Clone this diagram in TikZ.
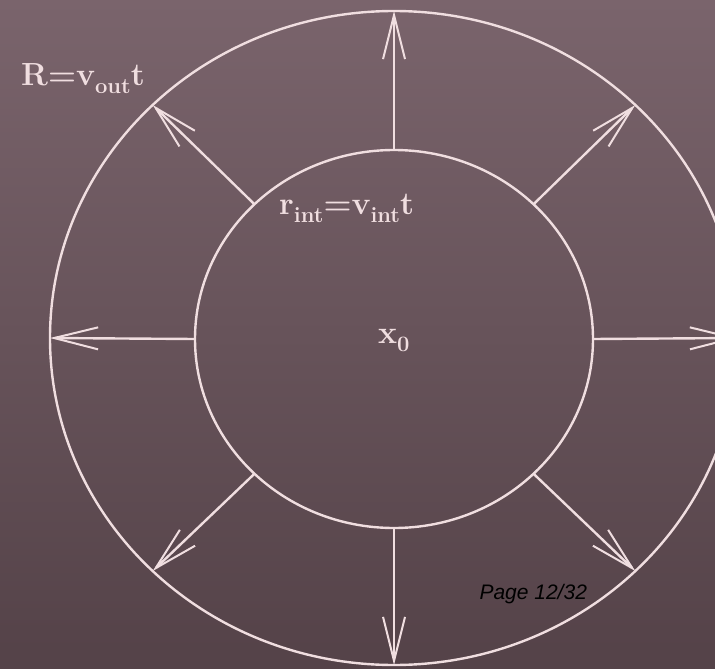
\documentclass[tikz,border=0pt]{standalone}
\usepackage{fontspec}
\usepackage{tikz}
\usetikzlibrary{positioning, arrows.meta, shapes.geometric}
\newfontfamily\pagefont{Liberation Sans}
\definecolor{chalk}{RGB}{240, 222, 224}
\definecolor{boardtop}{RGB}{122, 100, 108}
\definecolor{boardbot}{RGB}{84, 66, 72}
\newcommand{\chalksub}[1]{\raisebox{-8pt}{\fontsize{22}{24}\selectfont\bfseries #1}}

\begin{document}
\begin{tikzpicture}[
    x=1pt, y=-1pt,
    ring/.style={ellipse, draw=chalk, line width=2.4pt, inner sep=0pt, outer sep=0pt},
    arrow/.style={-{Straight Barb[length=44pt, width=22pt, line width=2pt]}, draw=chalk, line width=2.4pt},
    label/.style={text=chalk, inner sep=0pt, font=\fontsize{32}{38}\selectfont\bfseries}
]
    % board
    \clip (0,0) rectangle (715,669);
    \shade[top color=boardtop, bottom color=boardbot] (0,0) rectangle (715,669);

    \node[ring, minimum width=398pt, minimum height=378pt] (inner) at (394,339) {};
    \node[ring, minimum width=688pt, minimum height=654pt] (outer) at (394,338) {};

    \foreach \a in {0,44,90,136,180,224,270,316}
        \draw[arrow] (inner.\a) -- (outer.\a);

    \node[label, anchor=base west] (rout) at (21,85) {R=v\chalksub{out}t};
    \node[label, anchor=base west] (rint) at (279,214) {r\chalksub{int}=v\chalksub{int}t};
    \node[label, anchor=base west] (x0) at (378,343) {x\chalksub{0}};

    \node[anchor=base west, font=\pagefont\itshape\fontsize{21}{24}\selectfont] (page) at (476,599) {Page 12/32};
\end{tikzpicture}
\end{document}
